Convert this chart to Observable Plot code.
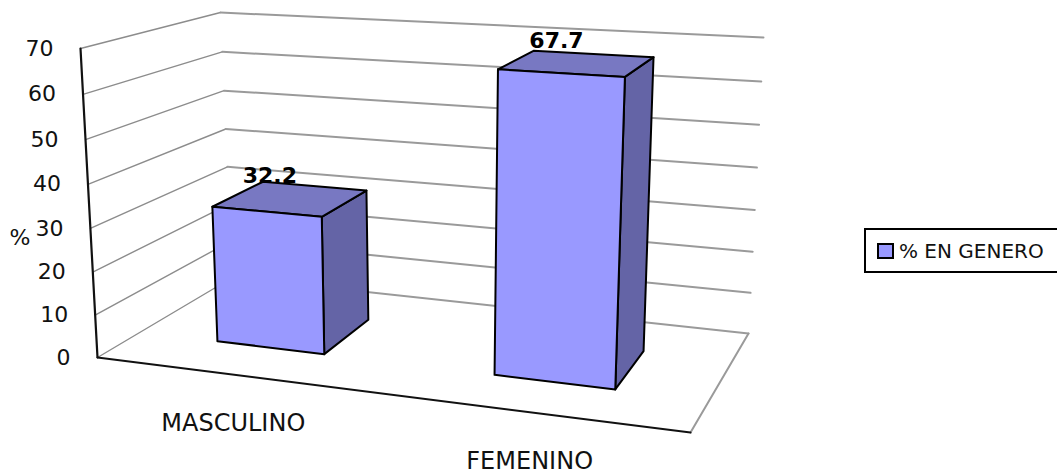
<!DOCTYPE html>
<html lang="es">
<head>
<meta charset="utf-8">
<title>% EN GENERO</title>
<script src="https://cdn.jsdelivr.net/npm/d3@7"></script>
<script src="https://cdn.jsdelivr.net/npm/@observablehq/plot@0.6"></script>
<style>
  html, body { margin: 0; background: #fff; }
  #chart { position: relative; width: 1057px; height: 474px; overflow: hidden; }
  #chart svg { display: block; }
  .legend {
    position: absolute; left: 864px; top: 228px; width: 220px; height: 41px;
    border: 2px solid #000; box-sizing: content-box;
    display: flex; align-items: center;
    font: 20px "DejaVu Sans", sans-serif; color: #111; white-space: nowrap;
  }
  .swatch {
    width: 13px; height: 12px; margin-left: 11px; margin-right: 5px;
    background: #9999ff; border: 2px solid #000;
  }
</style>
</head>
<body>
<div id="chart">
  <div class="legend"><span class="swatch"></span><span>% EN GENERO</span></div>
</div>
<script>
// Chart values
const categories = ["MASCULINO", "FEMENINO"];
const shares = [32.2, 67.7];
const valueTicks = [0, 10, 20, 30, 40, 50, 60, 70];
const axisLabel = "%";

// Corners of the 3D plot box on the page
const box = {
  front: {left: {low: [97, 357], high: [80, 48]}, right: {low: [690, 432], high: [705, 87]}},
  back: {left: {low: [232, 277], high: [220, 12]}, right: {low: [748, 333], high: [763, 37]}}
};
const valueMax = 70;
const foreshortening = 0.045;

// Where each column sits across the floor, and how deep it runs into the box
const columnSpan = [[0.135, 0.323], [0.6226, 0.835]];
const depthSpan = [0.32, 0.72];

const mix = (a, b, t) => [a[0] + (b[0] - a[0]) * t, a[1] + (b[1] - a[1]) * t];

// Projection of a point in box space onto the page, with the upper
// values spread slightly wider to follow the perspective of the box
function project(u, value, w) {
  const r = value / valueMax;
  const t = r - foreshortening * r * (1 - r);
  const frontLow = mix(box.front.left.low, box.front.right.low, u);
  const frontHigh = mix(box.front.left.high, box.front.right.high, u);
  const backLow = mix(box.back.left.low, box.back.right.low, u);
  const backHigh = mix(box.back.left.high, box.back.right.high, u);
  const [x, y] = mix(mix(frontLow, frontHigh, t), mix(backLow, backHigh, t), w);
  return {x, y};
}

// Wall and floor rules
const leftWall = valueTicks.flatMap((v) => [0, 1].map((w) => ({...project(0, v, w), key: v})));
const backWall = valueTicks.flatMap((v) => [0, 1].map((u) => ({...project(u, v, 1), key: v})));
const valueAxis = [project(0, 0, 0), project(0, valueMax, 0)];
const frontEdge = [project(0, 0, 0), project(1, 0, 0)];
const sideEdge = [project(1, 0, 0), project(1, 0, 1)];

// Column faces, each a closed outline
const shades = {front: "#9999ff", top: "#7878c2", side: "#6464a6"};
const faces = shares.flatMap((value, i) => {
  const [u0, u1] = columnSpan[i];
  const [w0, w1] = depthSpan;
  const outline = (face, corners) =>
    [...corners, corners[0]].map(([u, v, w]) => ({...project(u, v, w), id: `${i}-${face}`, shade: shades[face]}));
  return [
    ...outline("side", [[u1, 0, w0], [u1, 0, w1], [u1, value, w1], [u1, value, w0]]),
    ...outline("top", [[u0, value, w0], [u1, value, w0], [u1, value, w1], [u0, value, w1]]),
    ...outline("front", [[u0, 0, w0], [u1, 0, w0], [u1, value, w0], [u0, value, w0]])
  ];
});

const valueLabels = shares.map((value, i) => ({
  ...project((columnSpan[i][0] + columnSpan[i][1]) / 2, value, (depthSpan[0] + depthSpan[1]) / 2),
  text: value.toFixed(1)
}));
const categoryLabels = categories.map((name, i) => ({
  ...project((columnSpan[i][0] + columnSpan[i][1]) / 2, 0, 0),
  text: name
}));
const tickLabels = valueTicks.map((v) => ({...project(0, v, 0), text: String(v)}));
const axisTitle = [{...project(0, 30, 0), text: axisLabel}];

const font = '"DejaVu Sans", sans-serif';
const chart = Plot.plot({
  width: 1057,
  height: 474,
  margin: 0,
  style: {background: "transparent"},
  x: {domain: [0, 1057], range: [0, 1057], axis: null},
  y: {domain: [0, 474], range: [0, 474], axis: null},
  marks: [
    Plot.line(leftWall, {x: "x", y: "y", z: "key", stroke: "#8c8c8c", strokeWidth: 1.4, curve: "linear"}),
    Plot.line(backWall, {x: "x", y: "y", z: "key", stroke: "#9a9a9a", strokeWidth: 2, curve: "linear"}),
    Plot.line(sideEdge, {x: "x", y: "y", stroke: "#9a9a9a", strokeWidth: 2}),
    Plot.line(frontEdge, {x: "x", y: "y", stroke: "#111", strokeWidth: 2}),
    Plot.line(valueAxis, {x: "x", y: "y", stroke: "#111", strokeWidth: 2.2}),
    Plot.text(tickLabels, {x: "x", y: "y", text: "text", dx: -27, textAnchor: "end", fontSize: 22, fontFamily: font, fill: "#111"}),
    Plot.text(axisTitle, {x: "x", y: "y", text: "text", dx: -60, dy: 9, textAnchor: "end", fontSize: 22, fontFamily: font, fill: "#111"}),
    Plot.text(categoryLabels, {x: "x", y: "y", text: "text", dy: 49, fontSize: 24, fontFamily: font, fill: "#111"}),
    // Value labels go under the columns so each top face trims its label
    Plot.text(valueLabels, {x: "x", y: "y", text: "text", dx: -21, dy: -23, fontSize: 22, fontWeight: "bold", fontFamily: font, fill: "#000"}),
    Plot.line(faces, {x: "x", y: "y", z: "id", fill: "shade", stroke: "#000", strokeWidth: 2, strokeLinejoin: "round", curve: "linear"})
  ]
});
document.getElementById("chart").prepend(chart);
</script>
</body>
</html>
